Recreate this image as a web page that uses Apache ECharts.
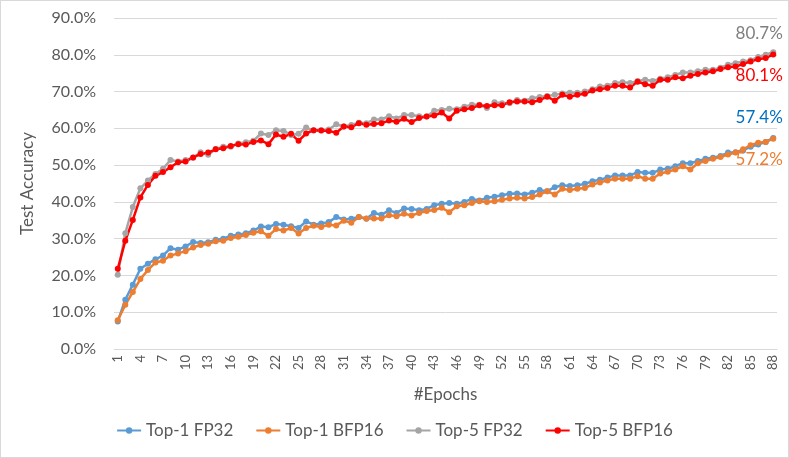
<!DOCTYPE html>
<html>
<head>
<meta charset="UTF-8">
<title>Test Accuracy</title>
<script src="https://cdn.jsdelivr.net/npm/echarts@6/dist/echarts.min.js"></script>
<style>
    html, body { margin: 0; padding: 0; background: #fff; }
    #chart { width: 787px; height: 456px; border: 1px solid #d9d9d9; }
</style>
</head>
<body>
<div id="chart"></div>
<script>
// epochs 1..88
const epochs = [];
for (let i = 1; i <= 88; i++) epochs.push(String(i));

const top1Fp32 = [
    7.5, 13.4, 17.5, 21.8, 23.2, 24.4, 25.4, 27.4, 27.0, 27.9, 29.1, 28.8, 29.0, 29.7, 30.0, 30.8, 31.1, 31.5, 32.2, 33.3, 33.1, 34.0,
    33.8, 33.4, 32.9, 34.7, 33.8, 34.1, 34.5, 35.9, 35.2, 35.4, 35.9, 35.4, 37.0, 36.5, 37.7, 37.0, 38.2, 38.1, 37.7, 38.1, 39.1,
    39.5, 39.7, 39.5, 40.0, 40.8, 40.4, 41.1, 41.4, 41.8, 42.2, 42.3, 42.0, 42.5, 43.2, 42.9, 44.0, 44.5, 44.3, 44.5, 44.9, 45.6, 46.0, 46.6,
    47.2, 47.2, 47.2, 48.1, 47.9, 47.9, 48.8, 49.0, 49.7, 50.5, 50.5, 51.1, 51.7, 52.0, 52.5, 53.4, 53.5, 54.0, 55.0, 55.6, 56.3, 57.4
];
const top1Bfp16 = [
    7.8, 12.0, 15.5, 19.0, 21.5, 23.5, 24.0, 25.4, 26.0, 26.6, 27.6, 28.3, 28.6, 29.3, 29.4, 30.2, 30.5, 31.0, 31.6, 32.0, 30.8, 32.6,
    32.2, 32.9, 31.4, 32.9, 33.5, 33.2, 33.8, 33.6, 34.9, 34.3, 35.9, 35.5, 35.5, 35.5, 36.4, 36.1, 36.8, 36.3, 37.0, 37.5, 37.8,
    38.4, 37.2, 38.8, 39.1, 39.7, 40.2, 40.0, 40.2, 40.6, 40.9, 41.1, 40.9, 41.3, 42.0, 42.9, 42.0, 43.6, 43.2, 43.6, 43.8, 44.7, 45.3, 45.8,
    46.3, 46.3, 46.3, 47.0, 46.3, 46.3, 47.7, 48.2, 48.8, 49.7, 48.8, 50.5, 51.1, 51.7, 52.2, 52.9, 53.4, 54.3, 55.4, 56.1, 56.3, 57.2
];
const top5Fp32 = [
    20.2, 31.5, 38.6, 43.7, 45.8, 47.6, 49.0, 51.4, 51.0, 51.4, 52.0, 53.5, 52.8, 54.4, 55.0, 55.0, 55.9, 56.2, 56.6, 58.6, 58.2, 59.5,
    59.3, 58.2, 58.5, 60.2, 59.4, 59.5, 59.7, 61.1, 60.5, 60.9, 61.5, 61.4, 62.4, 62.4, 63.3, 62.7, 63.6, 63.6, 63.3, 63.2, 64.8,
    65.0, 65.3, 65.2, 65.9, 66.4, 66.4, 65.5, 67.1, 66.8, 66.8, 67.7, 67.5, 68.2, 68.5, 68.8, 69.1, 69.5, 69.7, 69.7, 70.0, 70.6, 71.4, 71.6,
    72.3, 72.5, 72.3, 72.9, 73.2, 72.9, 73.5, 73.9, 74.5, 75.2, 75.2, 75.5, 75.9, 75.9, 76.5, 77.3, 77.7, 78.2, 78.5, 79.4, 80.0, 80.7
];
const top5Bfp16 = [
    21.8, 29.4, 35.1, 41.2, 44.6, 47.1, 48.1, 49.4, 50.8, 51.0, 52.1, 53.0, 53.4, 54.3, 54.6, 55.2, 55.7, 55.6, 56.3, 56.7, 55.7, 58.3,
    57.7, 58.5, 56.6, 58.6, 59.5, 59.4, 59.3, 58.8, 60.5, 60.3, 61.4, 61.0, 61.2, 61.4, 62.1, 61.8, 62.6, 61.7, 62.8, 63.2, 63.5,
    64.3, 62.7, 64.8, 65.2, 65.5, 66.3, 66.1, 66.3, 66.3, 67.1, 67.3, 67.3, 67.1, 67.7, 68.6, 67.5, 69.1, 68.6, 69.1, 69.4, 70.3, 70.6, 71.0,
    71.6, 71.6, 71.1, 72.7, 72.0, 71.6, 73.2, 73.2, 73.9, 73.6, 74.3, 74.8, 75.2, 75.5, 76.1, 76.6, 76.8, 77.5, 78.2, 78.8, 79.1, 80.1
];

const FONT = 'Lato, "Open Sans", sans-serif';
const TXT = '#595959';

// label only on the last point
function endLabel(values, color, offset) {
    return values.map((v, i) => i === values.length - 1 ? {
        value: v,
        label: {
            show: true, position: 'inside', offset: offset, color: color,
            fontFamily: FONT, fontSize: 17,
            formatter: p => p.value.toFixed(1) + '%'
        }
    } : v);
}

function lineSeries(name, color, data) {
    return {
        name: name, type: 'line', data: data,
        symbol: 'circle', symbolSize: 6, showAllSymbol: true,
        lineStyle: { color: color, width: 2.5 },
        itemStyle: { color: color },
        emphasis: { disabled: true },
        animation: false
    };
}

const chart = echarts.init(document.getElementById('chart'));
chart.setOption({
    backgroundColor: '#fff',
    grid: { left: 113, right: 11, top: 17, bottom: 108 },
    legend: {
        bottom: 13, left: 'center',
        itemWidth: 24, itemHeight: 8, itemGap: 22,
        textStyle: { color: TXT, fontFamily: FONT, fontSize: 17 },
        data: ['Top-1 FP32', 'Top-1 BFP16', 'Top-5 FP32', 'Top-5 BFP16']
    },
    xAxis: {
        type: 'category', data: epochs,
        name: '#Epochs', nameLocation: 'middle', nameGap: 37,
        nameTextStyle: { color: TXT, fontFamily: FONT, fontSize: 17 },
        axisLine: { lineStyle: { color: '#d9d9d9' } },
        axisTick: { show: false },
        axisLabel: { interval: 2, rotate: 90, color: TXT, fontFamily: FONT, fontSize: 13, margin: 6 }
    },
    yAxis: {
        type: 'value', min: 0, max: 90, interval: 10,
        name: 'Test Accuracy', nameLocation: 'middle', nameGap: 78,
        nameTextStyle: { color: TXT, fontFamily: FONT, fontSize: 17 },
        axisLine: { show: false },
        axisTick: { show: false },
        splitLine: { lineStyle: { color: '#d9d9d9' } },
        axisLabel: {
            color: TXT, fontFamily: FONT, fontSize: 16, margin: 18,
            formatter: v => v.toFixed(1) + '%'
        }
    },
    series: [
        lineSeries('Top-1 FP32', '#5b9bd5', endLabel(top1Fp32, '#0070c0', [-14, -20])),
        lineSeries('Top-1 BFP16', '#ed7d31', endLabel(top1Bfp16, '#ed7d31', [-14, 21])),
        lineSeries('Top-5 FP32', '#a5a5a5', endLabel(top5Fp32, '#7f7f7f', [-14, -19])),
        lineSeries('Top-5 BFP16', '#ff0000', endLabel(top5Bfp16, '#ff0000', [-14, 21]))
    ]
});
</script>
</body>
</html>
